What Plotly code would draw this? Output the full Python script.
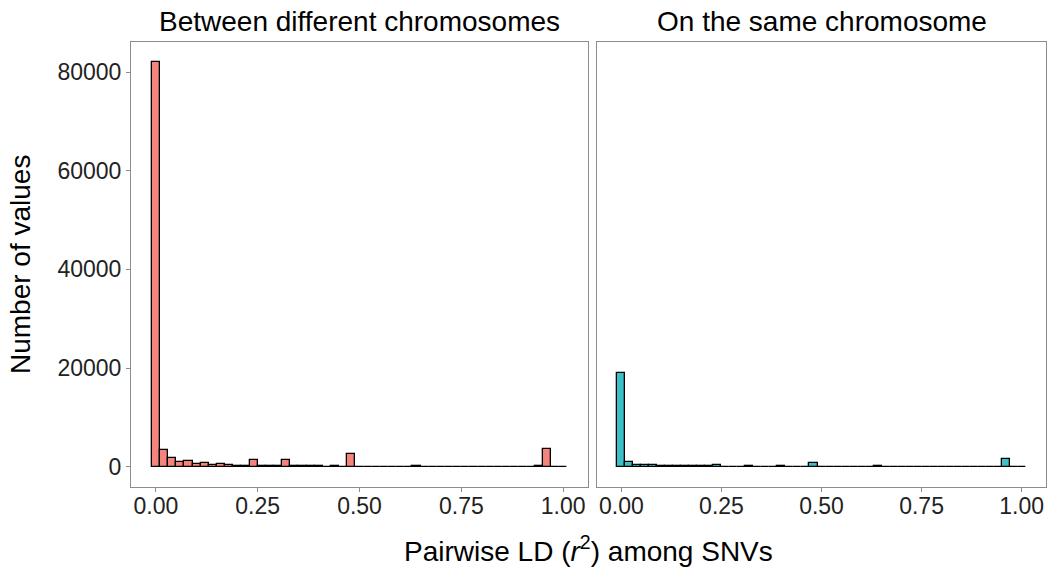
import plotly.graph_objects as go
from plotly.subplots import make_subplots

# Bin centres (binwidth 0.02) for the pairwise LD r^2 histogram
bin_centers = [round(k * 0.02, 2) for k in range(51)]
bin_width = 0.02

# Counts per bin: between different chromosomes
counts_between = [82000, 3300, 1700, 900, 1200, 500, 700, 300, 500, 400,
                  150, 100, 1400, 80, 60, 80, 1400, 60, 150, 60,
                  120, 50, 60, 40, 2500, 40, 50, 50, 40, 50,
                  50, 40, 200, 40, 50, 40, 50, 40, 40, 50,
                  40, 40, 50, 40, 40, 40, 50, 60, 3600, 40, 20]

# Counts per bin: on the same chromosome
counts_same = [19000, 900, 400, 300, 300, 200, 150, 100, 200, 200,
               80, 60, 300, 40, 40, 40, 250, 40, 50, 30,
               60, 30, 40, 30, 800, 30, 30, 40, 20, 30,
               20, 20, 60, 20, 20, 20, 30, 20, 20, 20,
               20, 20, 20, 20, 20, 20, 20, 30, 1500, 20, 10]

panel_titles = ["Between different chromosomes", "On the same chromosome"]
x_ticks = [0, 0.25, 0.5, 0.75, 1.0]
x_ticklabels = ["0.00", "0.25", "0.50", "0.75", "1.00"]
y_ticks = [0, 20000, 40000, 60000, 80000]
y_ticklabels = ["0", "20000", "40000", "60000", "80000"]

fill_colors = ["#F5847C", "#3DBFC8"]

fig = make_subplots(rows=1, cols=2, shared_yaxes=True)

for i, counts in enumerate([counts_between, counts_same]):
    fig.add_trace(go.Bar(
        x=bin_centers, y=counts, width=[bin_width] * len(bin_centers),
        marker=dict(color=fill_colors[i], line=dict(color="black", width=1.3)),
        showlegend=False,
    ), row=1, col=i + 1)

ymax = max(max(counts_between), max(counts_same))
xlo = bin_centers[0] - bin_width / 2
xhi = bin_centers[-1] + bin_width / 2
xpad = (xhi - xlo) * 0.05
font = "Liberation Sans, Arial, Helvetica, sans-serif"

axis_common = dict(
    showgrid=False, zeroline=False, showline=True, mirror=True,
    linecolor="#8c8c8c", linewidth=1, ticks="outside", ticklen=4,
    tickcolor="#8c8c8c", tickfont=dict(family=font, size=23, color="#222"),
)

domains = [[0.0, 457 / 915], [466 / 915, 1.0]]

for c in (1, 2):
    fig.update_xaxes(range=[xlo - xpad, xhi + xpad], tickvals=x_ticks,
                     ticktext=x_ticklabels, domain=domains[c - 1],
                     ticklabelstandoff=-6,
                     row=1, col=c, **axis_common)
    fig.update_yaxes(range=[-0.05 * ymax, 1.05 * ymax], tickvals=y_ticks,
                     ticktext=y_ticklabels, row=1, col=c, **axis_common)

fig.update_yaxes(showticklabels=False, ticks="", row=1, col=2)

fig.update_layout(
    width=1052, height=567,
    margin=dict(l=131, r=6, t=42, b=80),
    plot_bgcolor="white", paper_bgcolor="white",
    bargap=0,
    font=dict(family=font, color="black"),
)

title_size = 28

# Facet strip titles
for i, title in enumerate(panel_titles):
    dom = domains[i]
    fig.add_annotation(text=title, x=(dom[0] + dom[1]) / 2, y=1.0,
                       xref="paper", yref="paper", xanchor="center",
                       yanchor="bottom", yshift=3,
                       showarrow=False, font=dict(family=font, size=title_size, color="black"))

# Axis titles
fig.add_annotation(text="Pairwise LD (<i>r</i><sup>2</sup>) among SNVs",
                   x=0.5, y=0, xref="paper", yref="paper", xanchor="center",
                   yanchor="top", yshift=-42,
                   showarrow=False, font=dict(family=font, size=title_size, color="black"))
fig.add_annotation(text="Number of values", textangle=-90,
                   x=0, y=0.5, xref="paper", yref="paper", xanchor="right",
                   yanchor="middle", xshift=-93,
                   showarrow=False, font=dict(family=font, size=title_size, color="black"))

fig.write_html("out.html", config={"displayModeBar": False},
               post_script="document.body.style.margin='0';")
